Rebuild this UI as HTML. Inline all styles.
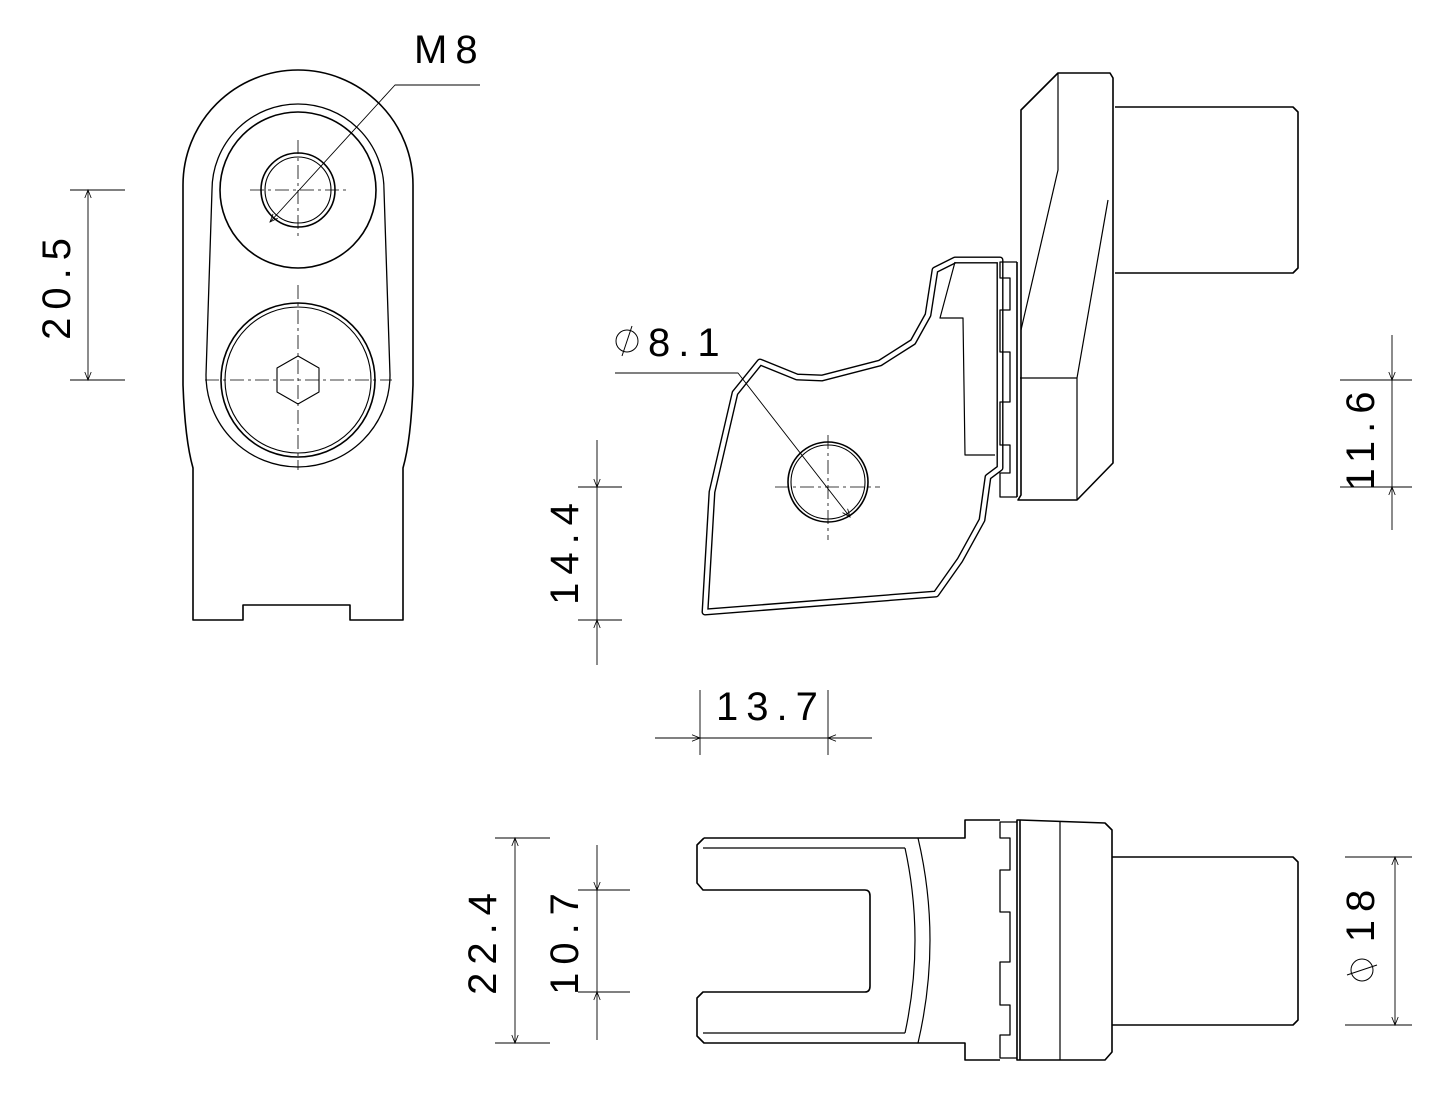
<!DOCTYPE html>
<html><head><meta charset="utf-8"><style>
html,body{margin:0;padding:0;background:#fff}
svg{display:block}
text{font-family:"Liberation Sans",sans-serif;fill:#000}
</style></head><body>
<svg width="1445" height="1094" viewBox="0 0 1445 1094" xmlns="http://www.w3.org/2000/svg">
<defs>
<marker id="a" viewBox="0 0 10 10" refX="10" refY="5" markerWidth="14" markerHeight="8" orient="auto-start-reverse" markerUnits="userSpaceOnUse"><path d="M0,1 L10,5 L0,9" fill="none" stroke="#000" stroke-width="1"/></marker>
</defs>
<g fill="none" stroke="#000" stroke-width="1.6" stroke-linejoin="round">
<!-- LEFT VIEW -->
<path d="M183,185 A115,115 0 0 1 413,185 L413,385 Q411,440 403,468 L403,620 L350,620 L350,605 L243,605 L243,620 L193,620 L193,468 Q185,440 183,385 Z"/>
<path d="M212,190 A86,86 0 0 1 384,190 L390,375 A92,92 0 0 1 206,375 Z" stroke-width="1.3"/>
<circle cx="298" cy="190" r="78"/>
<circle cx="298" cy="190" r="37"/>
<circle cx="298" cy="190" r="33" stroke-width="1.1"/>
<circle cx="298" cy="380" r="77"/>
<circle cx="298" cy="380" r="73" stroke-width="1.1"/>
<polygon points="298,356 319,368 319,392 298,404 277,392 277,368" stroke-width="1.1"/>
<g stroke-width="0.8" stroke-dasharray="14,4,3,4">
<line x1="250" y1="190" x2="346" y2="190"/><line x1="298" y1="140" x2="298" y2="240"/>
<line x1="205" y1="380" x2="392" y2="380"/><line x1="298" y1="285" x2="298" y2="470"/>
</g>
<g stroke-width="0.9">
<polyline points="270,222 395,85 480,85" marker-start="url(#a)"/>
<line x1="70" y1="190" x2="125" y2="190"/><line x1="70" y1="380" x2="125" y2="380"/>
<line x1="88" y1="190" x2="88" y2="380" marker-start="url(#a)" marker-end="url(#a)"/>
</g>
<!-- SIDE VIEW bracket (double line) -->
<path d="M705,612 L712,492 L735,393 L760,362 L797,377 L822,378 L880,363 L913,342 L928,315 L935,270 L955,260 L1000,260 L1000,468 L988,477 L982,520 L960,560 L936,594 Z" stroke-width="7"/>
<path d="M705,612 L712,492 L735,393 L760,362 L797,377 L822,378 L880,363 L913,342 L928,315 L935,270 L955,260 L1000,260 L1000,468 L988,477 L982,520 L960,560 L936,594 Z" stroke="#fff" stroke-width="4.2"/>
<path d="M955,262 L940,318 L963,318 L965,455 L995,455" stroke-width="1.2"/>
<circle cx="828" cy="482" r="40"/><circle cx="828" cy="482" r="37" stroke-width="1.1"/>
<g stroke-width="0.8" stroke-dasharray="14,4,3,4"><line x1="775" y1="487" x2="880" y2="487"/><line x1="828" y1="435" x2="828" y2="540"/></g>
<g stroke-width="0.9"><polyline points="615,373 738,373 850,517" marker-end="url(#a)"/></g>
<!-- teeth -->
<path d="M1017,262 L1000,262 L1000,278 L1010,278 L1010,310 L1000,310 L1000,352 L1010,352 L1010,402 L1000,402 L1000,445 L1010,445 L1010,473 L1000,473 L1000,497 L1017,497" stroke-width="1.3"/>
<line x1="1017" y1="262" x2="1017" y2="497"/>
<!-- plate -->
<path d="M1058,73 L1110,73 L1113,78 L1113,463 L1077,500 L1018,500 L1021,495 L1021,110 Z"/>
<path d="M1058,73 L1058,170 L1021,330 M1108,200 L1077,378 L1077,500 M1020,378 L1077,378" stroke-width="1.2"/>
<path d="M1115,107 L1293,107 L1298,112 L1298,268 L1293,273 L1115,273"/>
<!-- dims side -->
<g stroke-width="0.9">
<line x1="578" y1="487" x2="622" y2="487"/><line x1="578" y1="620" x2="622" y2="620"/>
<line x1="597" y1="440" x2="597" y2="487" marker-end="url(#a)"/><line x1="597" y1="665" x2="597" y2="620" marker-end="url(#a)"/><line x1="597" y1="487" x2="597" y2="620"/>
<line x1="700" y1="690" x2="700" y2="755"/><line x1="828" y1="690" x2="828" y2="755"/>
<line x1="655" y1="738" x2="700" y2="738" marker-end="url(#a)"/><line x1="872" y1="738" x2="828" y2="738" marker-end="url(#a)"/><line x1="700" y1="738" x2="828" y2="738"/>
<line x1="1340" y1="380" x2="1412" y2="380"/><line x1="1340" y1="487" x2="1412" y2="487"/>
<line x1="1392" y1="335" x2="1392" y2="380" marker-end="url(#a)"/><line x1="1392" y1="530" x2="1392" y2="487" marker-end="url(#a)"/><line x1="1392" y1="380" x2="1392" y2="487"/>
</g>
<!-- BOTTOM VIEW -->
<path d="M704,838 L965,838 L965,820 L1000,820 M704,838 L697,845 L697,883 L703,890 L865,890 Q870,890 870,896 L870,986 Q870,992 865,992 L703,992 L697,998 L697,1036 L704,1043 L965,1043 L965,1060 L1000,1060"/>
<line x1="703" y1="848" x2="905" y2="848" stroke-width="1.2"/><line x1="703" y1="1033" x2="905" y2="1033" stroke-width="1.2"/>
<path d="M905,848 Q925,940 905,1033 M918,838 Q942,940 918,1043" stroke-width="1.2"/>
<path d="M1017,822 L1000,822 L1000,838 L1010,838 L1010,870 L1000,870 L1000,912 L1010,912 L1010,962 L1000,962 L1000,1005 L1010,1005 L1010,1035 L1000,1035 L1000,1058 L1017,1058" stroke-width="1.3"/>
<path d="M1017,820 L1020,820 L1105,823 L1112,830 L1112,1052 L1105,1060 L1020,1060 L1017,1060 Z"/>
<line x1="1020" y1="820" x2="1020" y2="1060"/><line x1="1060" y1="822" x2="1060" y2="1060" stroke-width="1.2"/>
<path d="M1112,857 L1293,857 L1298,862 L1298,1020 L1293,1025 L1112,1025"/>
<g stroke-width="0.9">
<line x1="495" y1="838" x2="550" y2="838"/><line x1="495" y1="1043" x2="550" y2="1043"/>
<line x1="515" y1="838" x2="515" y2="1043" marker-start="url(#a)" marker-end="url(#a)"/>
<line x1="578" y1="890" x2="630" y2="890"/><line x1="578" y1="992" x2="630" y2="992"/>
<line x1="597" y1="845" x2="597" y2="890" marker-end="url(#a)"/><line x1="597" y1="1040" x2="597" y2="992" marker-end="url(#a)"/><line x1="597" y1="890" x2="597" y2="992"/>
<line x1="1345" y1="857" x2="1412" y2="857"/><line x1="1345" y1="1025" x2="1412" y2="1025"/>
<line x1="1395" y1="857" x2="1395" y2="1025" marker-start="url(#a)" marker-end="url(#a)"/>
</g>
</g>
<!-- TEXT -->
<g font-size="40" letter-spacing="8">
<text x="414" y="63">M8</text>
<text transform="translate(70,285) rotate(-90)" text-anchor="middle">20.5</text>
<text x="648" y="356">8.1</text>
<text transform="translate(578,550) rotate(-90)" text-anchor="middle">14.4</text>
<text x="716" y="720">13.7</text>
<text transform="translate(1374,437) rotate(-90)" text-anchor="middle">11.6</text>
<text transform="translate(496,940) rotate(-90)" text-anchor="middle">22.4</text>
<text transform="translate(578,940) rotate(-90)" text-anchor="middle">10.7</text>
<text transform="translate(1374,912) rotate(-90)" text-anchor="middle">18</text>
</g>
<g fill="none" stroke="#000" stroke-width="1">
<ellipse cx="627" cy="341" rx="11" ry="11"/><line x1="622" y1="356" x2="632" y2="326"/>
<ellipse cx="1362" cy="970" rx="11" ry="11"/><line x1="1347" y1="975" x2="1377" y2="965"/>
</g>
</svg>
</body></html>
